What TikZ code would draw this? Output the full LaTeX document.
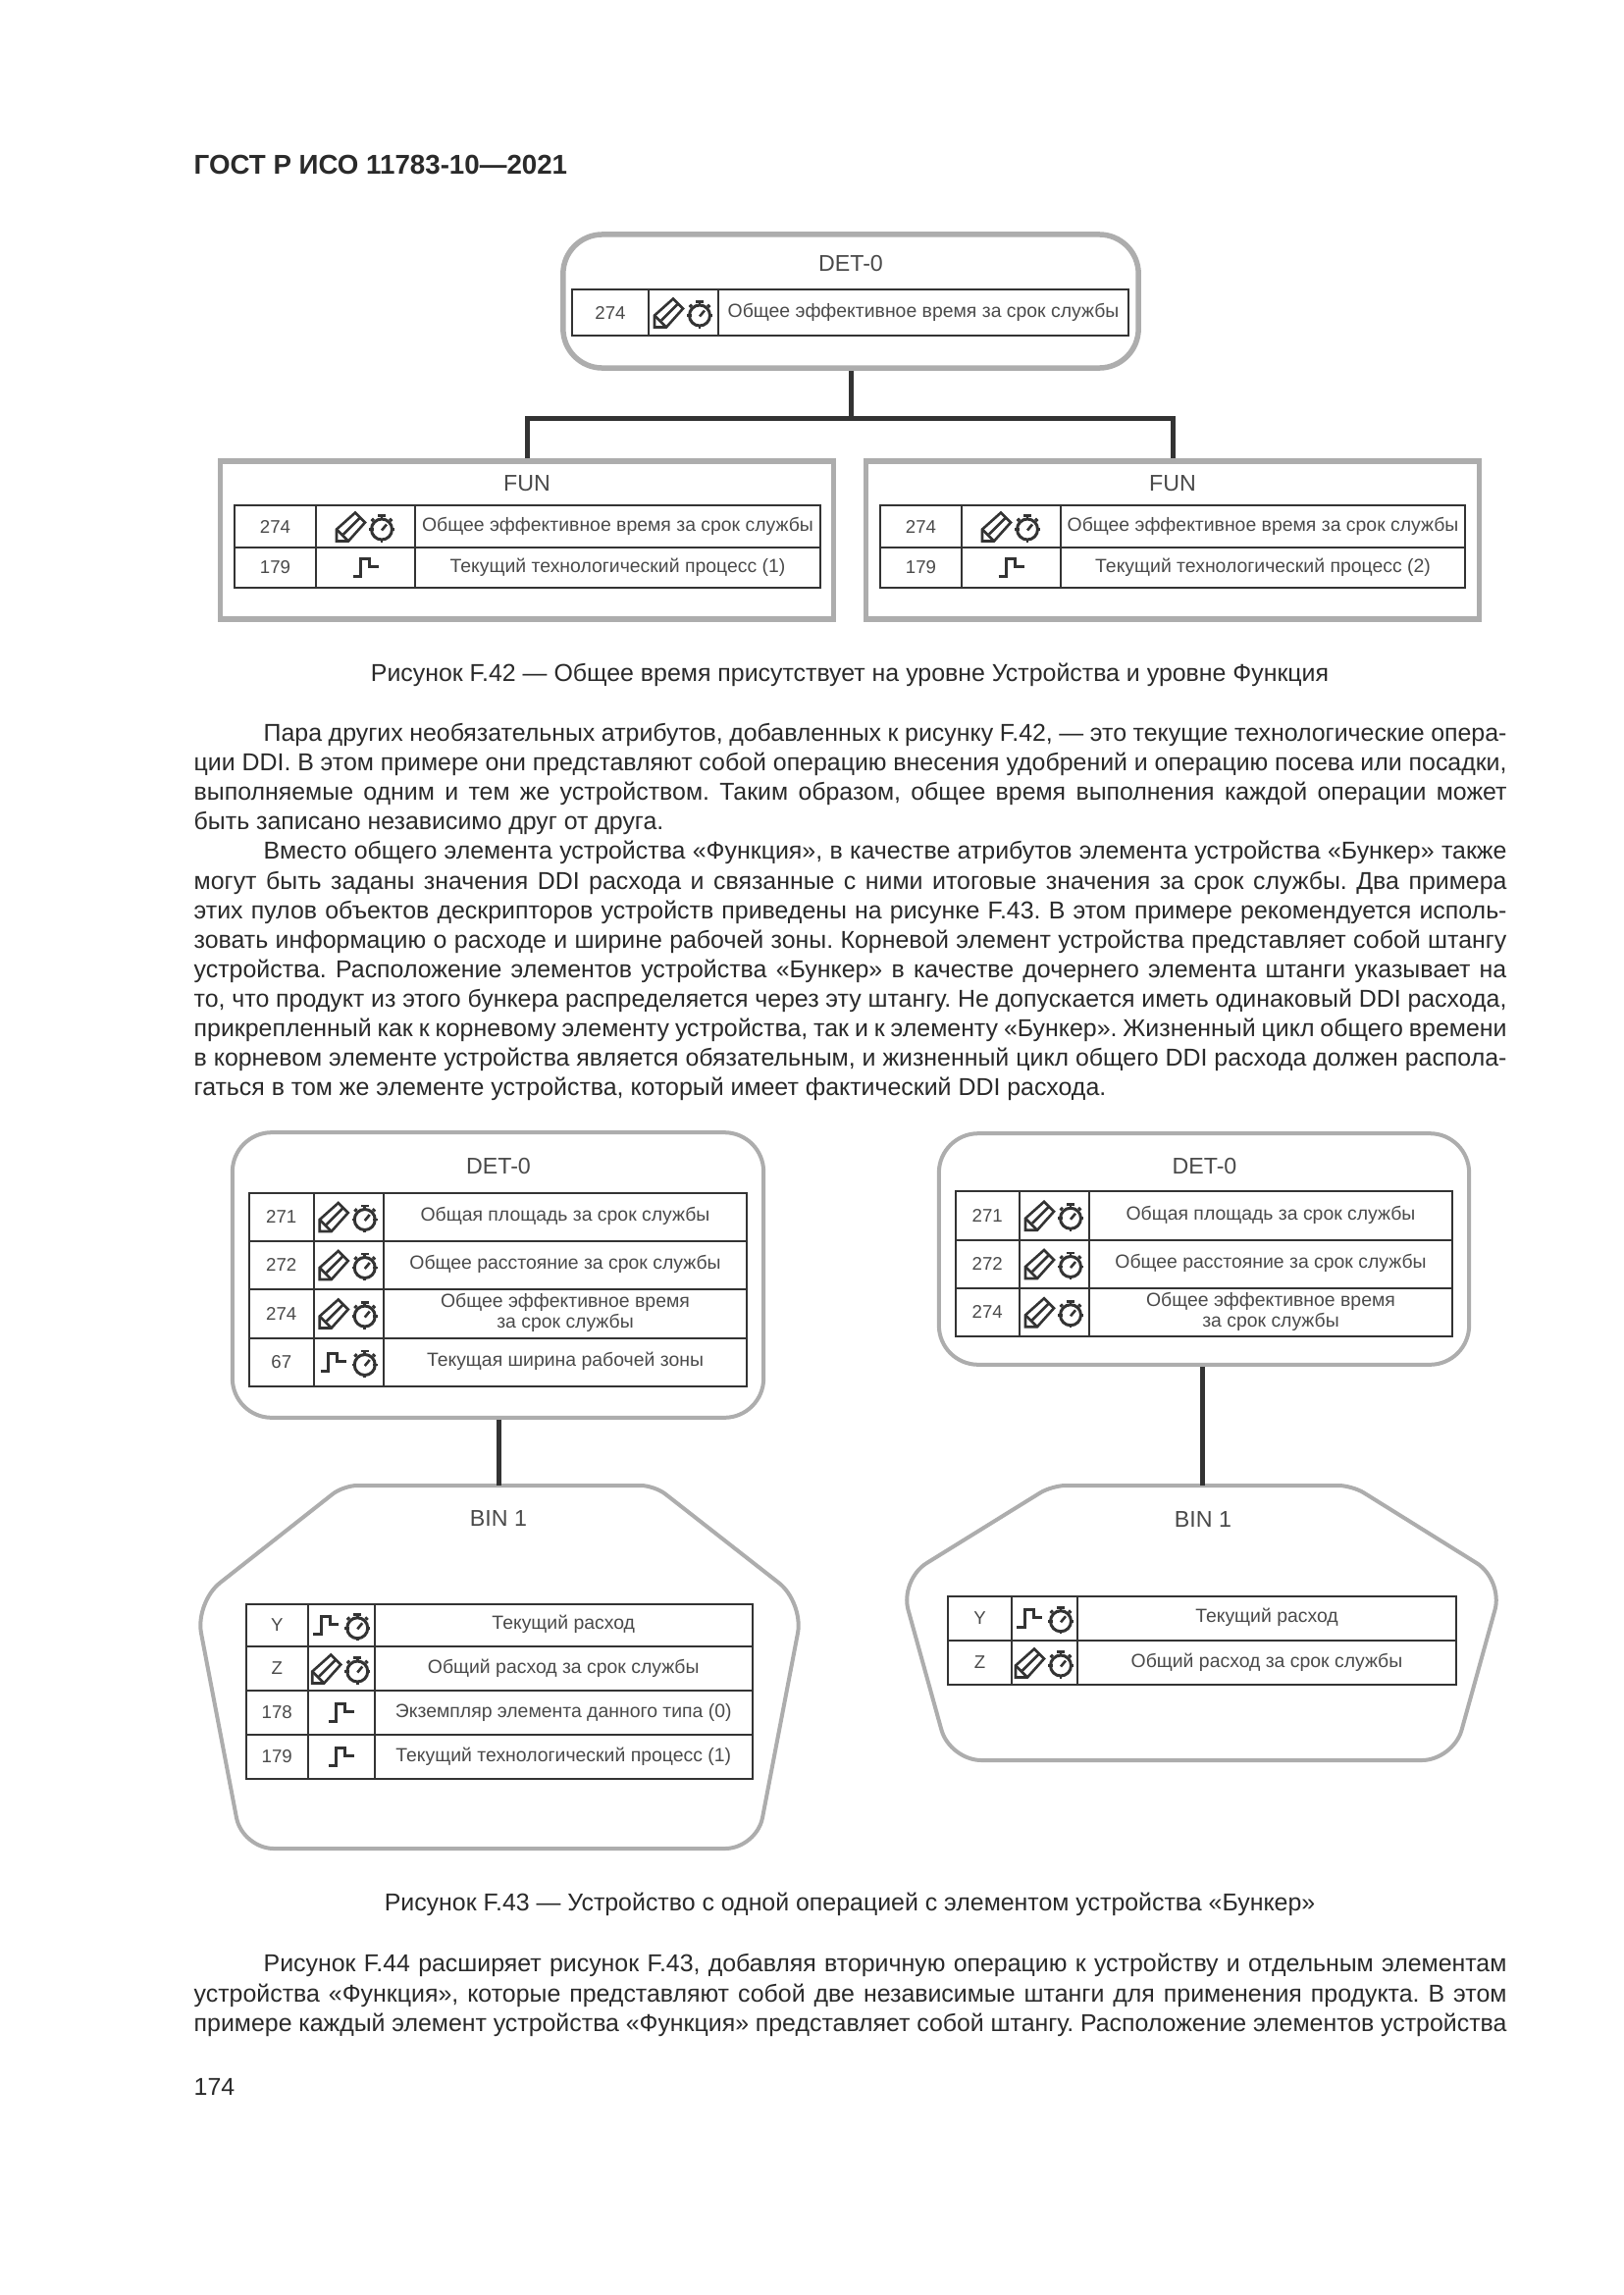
\documentclass[tikz,border=0pt]{standalone}
\usepackage{fontspec}
\setmainfont{Liberation Sans}
\definecolor{ink}{HTML}{2A2A2A}
\definecolor{frame}{HTML}{ADADAD}
\definecolor{rule}{HTML}{333333}
\newcommand\bodyfont{\fontsize{7.08}{8.5}\selectfont\frenchspacing}
\newcommand\cellfont{\fontsize{5.52}{6.1}\selectfont}
\newcommand\codefont{\fontsize{5.3}{6}\selectfont}
\newcommand\titlefont{\fontsize{6.6}{8}\selectfont}
\tikzset{
  x=0.01cm,y=-0.01cm,
  bodytext/.style={anchor=base west,inner sep=0pt,font=\bodyfont,text=ink},
  captext/.style={anchor=base,inner sep=0pt,font=\bodyfont,text=ink},
  detbox/.style={draw=frame,line width=#1,rounded corners=0.4cm,fill=white,rectangle,inner sep=0pt},
  funbox/.style={draw=frame,line width=0.055cm,fill=white,rectangle,inner sep=0pt},
  binbox/.style={draw=frame,line width=0.04cm,fill=white,line join=round},
  conn/.style={draw=rule,line width=0.05cm},
  boxtitle/.style={inner sep=0pt,font=\titlefont,text=ink!85},
  tcell/.style={draw=rule,line width=\tablw,rectangle,inner sep=0pt,text=ink!85,align=center},
  iconline/.style={draw=rule,line width=0.026cm,line join=miter},
  pencilicon/.pic={
    \draw[iconline] (-14,15) -- (-14,3) -- (5,-14) -- (15,-4) -- (-2,15) -- cycle;
    \draw[iconline] (-14,3) -- (-2,15);
    \draw[iconline] (-7,8) -- (10,-9);
  },
  watchicon/.pic={
    \draw[iconline,line width=0.03cm] (0,2) circle[radius=10.5];
    \draw[iconline] (-4,-12) -- (4,-12) (0,-12) -- (0,-8);
    \draw[iconline] (8,-9) -- (10.5,-6.5) (-8,-9) -- (-10.5,-6.5);
    \draw[iconline] (0,3) -- (5,-3);
    \draw[iconline] (-13,2) -- (-8.5,2) (13,2) -- (8.5,2) (0,15) -- (0,11);
  },
  stepicon/.pic={
    \draw[iconline,line width=0.03cm] (-13,9) -- (-5,9) -- (-5,-9) -- (4,-9) -- (4,-1) -- (13,-1);
  },
}
\newcommand\iconpw[2]{\pic at ({#1-15.5},#2) {pencilicon};\pic at ({#1+16.5},{#2+1}) {watchicon};}
\newcommand\iconsw[2]{\pic at ({#1-15.5},#2) {stepicon};\pic at ({#1+16.5},{#2+1}) {watchicon};}
\newcommand\icons[2]{\pic at (#1,#2) {stepicon};}
\newcommand\settable[5]{\def\xa{#1}\def\xb{#2}\def\xc{#3}\def\xd{#4}\def\tablw{#5}}
\newcommand\trow[6]{%
  \pgfmathsetmacro\ym{(#2+#3)/2}%
  \pgfmathsetmacro\rh{#3-#2}%
  \pgfmathsetmacro\cA{(\xa+\xb)/2}\pgfmathsetmacro\wA{\xb-\xa}%
  \pgfmathsetmacro\cB{(\xb+\xc)/2}\pgfmathsetmacro\wB{\xc-\xb}%
  \pgfmathsetmacro\cC{(\xc+\xd)/2}\pgfmathsetmacro\wC{\xd-\xc}%
  \node[tcell,font=\codefont,minimum width={\wA*0.01cm},minimum height={\rh*0.01cm}] (#1a) at (\cA,\ym) {#4};
  \node[tcell,minimum width={\wB*0.01cm},minimum height={\rh*0.01cm}] (#1b) at (\cB,\ym) {};
  \node[tcell,font=\cellfont,minimum width={\wC*0.01cm},minimum height={\rh*0.01cm}] (#1c) at (\cC,\ym) {};
  \node[inner sep=0pt,font=\cellfont,text=ink!85,align=center] (#1t) at (\cC,{\ym-0.5}) {#6};
  \csname icon#5\endcsname{\cB}{\ym}%
}
\newcommand\jlf[3]{\node[bodytext] (#1) at (197,#2) {\hbox to 13.37cm{\spaceskip=.278em plus 1fil minus 1fil #3}};}
\newcommand\jli[3]{\node[bodytext] (#1) at (268,#2) {\hbox to 12.66cm{\spaceskip=.278em plus 1fil minus 1fil #3}};}
\newcommand\jln[4]{\node[bodytext] (#1) at (#2,#3) {#4};}
\begin{document}
\begin{tikzpicture}
\useasboundingbox[fill=white] (0,0) rectangle (1654,2339);

\node[bodytext,font=\fontsize{7.88}{9}\selectfont\bfseries] (head) at (197,177) {ГОСТ Р ИСО 11783-10—2021};

% Figure F.42
\node[detbox=0.055cm,minimum width=5.86cm,minimum height=1.36cm] (det1) at (867,307) {};
\node[boxtitle] (det1t) at (867,269) {DET-0};
\node[funbox,minimum width=6.25cm,minimum height=1.61cm] (fun1) at (537,550.5) {};
\node[boxtitle] (fun1t) at (537,493) {FUN};
\node[funbox,minimum width=6.25cm,minimum height=1.61cm] (fun2) at (1195,550.5) {};
\node[boxtitle] (fun2t) at (1195,493) {FUN};
\coordinate (jn) at (867,426);
\draw[conn] (det1.south) -- (jn);
\draw[conn] (fun1.north) |- (jn) -| (fun2.north);

\settable{583}{661}{732}{1150}{0.016cm}
\trow{a1}{295}{342}{274}{pw}{Общее эффективное время за срок службы}
\settable{239}{322}{423}{836}{0.025cm}
\trow{b1}{515}{558}{274}{pw}{Общее эффективное время за срок службы}
\trow{b2}{558}{599}{179}{s}{Текущий технологический процесс (1)}
\settable{897}{980}{1081}{1493}{0.025cm}
\trow{c1}{515}{558}{274}{pw}{Общее эффективное время за срок службы}
\trow{c2}{558}{599}{179}{s}{Текущий технологический процесс (2)}

\node[captext] (cap42) at (866,694) {Рисунок F.42 — Общее время присутствует на уровне Устройства и уровне Функция};

\jli{l1}{755}{Пара других необязательных атрибутов, добавленных к рисунку F.42, — это текущие технологические опера-}
\jlf{l2}{785}{ции DDI. В этом примере они представляют собой операцию внесения удобрений и операцию посева или посадки,}
\jlf{l3}{815}{выполняемые одним и тем же устройством. Таким образом, общее время выполнения каждой операции может}
\jln{l4}{197}{845}{быть записано независимо друг от друга.}
\jli{l5}{875}{Вместо общего элемента устройства «Функция», в качестве атрибутов элемента устройства «Бункер» также}
\jlf{l6}{906}{могут быть заданы значения DDI расхода и связанные с ними итоговые значения за срок службы. Два примера}
\jlf{l7}{936}{этих пулов объектов дескрипторов устройств приведены на рисунке F.43. В этом примере рекомендуется исполь-}
\jlf{l8}{966}{зовать информацию о расходе и ширине рабочей зоны. Корневой элемент устройства представляет собой штангу}
\jlf{l9}{996}{устройства. Расположение элементов устройства «Бункер» в качестве дочернего элемента штанги указывает на}
\jlf{l10}{1026}{то, что продукт из этого бункера распределяется через эту штангу. Не допускается иметь одинаковый DDI расхода,}
\jlf{l11}{1056}{прикрепленный как к корневому элементу устройства, так и к элементу «Бункер». Жизненный цикл общего времени}
\jlf{l12}{1086}{в корневом элементе устройства является обязательным, и жизненный цикл общего DDI расхода должен распола-}
\jln{l13}{197}{1116}{гаться в том же элементе устройства, который имеет фактический DDI расхода.}

% Figure F.43, left
\coordinate (bin1top) at (508,1514);
\draw[binbox] (508,1514) [rounded corners=0.14cm] -- (667,1514) [rounded corners=0.32cm] -- (819,1633) -- (771,1884) [rounded corners=0.32cm] -- (247,1884) -- (199,1633) [rounded corners=0.14cm] -- (350,1514) [sharp corners] -- cycle;
\node[detbox=0.04cm,minimum width=5.41cm,minimum height=2.905cm] (det2) at (507.5,1299.5) {};
\draw[conn] (bin1top |- det2.south) -- (bin1top);
\node[boxtitle] (det2t) at (508,1188) {DET-0};
\node[boxtitle] (bin1t) at (508,1547) {BIN 1};
\settable{254}{319.5}{391}{761}{0.02cm}
\trow{d1}{1215.5}{1264.5}{271}{pw}{Общая площадь за срок службы}
\trow{d2}{1264.5}{1313.5}{272}{pw}{Общее расстояние за срок службы}
\trow{d3}{1313.5}{1363.5}{274}{pw}{Общее эффективное время\\за срок службы}
\trow{d4}{1363.5}{1412.5}{67}{sw}{Текущая ширина рабочей зоны}
\settable{250.5}{314}{381.5}{767}{0.02cm}
\trow{e1}{1634.5}{1678}{Y}{sw}{Текущий расход}
\trow{e2}{1678}{1723}{Z}{pw}{Общий расход за срок службы}
\trow{e3}{1723}{1768}{178}{s}{Экземпляр элемента данного типа (0)}
\trow{e4}{1768}{1813}{179}{s}{Текущий технологический процесс (1)}

% Figure F.43, right
\coordinate (bin2top) at (1225,1514);
\draw[binbox] (1225,1514) [rounded corners=0.14cm] -- (1378,1514) [rounded corners=0.32cm] -- (1532,1610) -- (1481,1794) -- (968,1794) -- (917,1610) [rounded corners=0.14cm] -- (1072,1514) [sharp corners] -- cycle;
\node[detbox=0.04cm,minimum width=5.4cm,minimum height=2.355cm] (det3) at (1227,1273) {};
\draw[conn] (bin2top |- det3.south) -- (bin2top);
\node[boxtitle] (det3t) at (1227.5,1188) {DET-0};
\node[boxtitle] (bin2t) at (1226,1548) {BIN 1};
\settable{973.5}{1039}{1110}{1480}{0.02cm}
\trow{f1}{1214}{1263.5}{271}{pw}{Общая площадь за срок службы}
\trow{f2}{1263.5}{1312.5}{272}{pw}{Общее расстояние за срок службы}
\trow{f3}{1312.5}{1362}{274}{pw}{Общее эффективное время\\за срок службы}
\settable{966}{1031}{1098}{1484}{0.02cm}
\trow{g1}{1626.5}{1672}{Y}{sw}{Текущий расход}
\trow{g2}{1672}{1717}{Z}{pw}{Общий расход за срок службы}

\node[captext] (cap43) at (866,1947) {Рисунок F.43 — Устройство с одной операцией с элементом устройства «Бункер»};

\jli{l14}{2009}{Рисунок F.44 расширяет рисунок F.43, добавляя вторичную операцию к устройству и отдельным элементам}
\jlf{l15}{2040}{устройства «Функция», которые представляют собой две независимые штанги для применения продукта. В этом}
\jlf{l16}{2070}{примере каждый элемент устройства «Функция» представляет собой штангу. Расположение элементов устройства}
\jln{l17}{197}{2135}{174}
\end{tikzpicture}
\end{document}
